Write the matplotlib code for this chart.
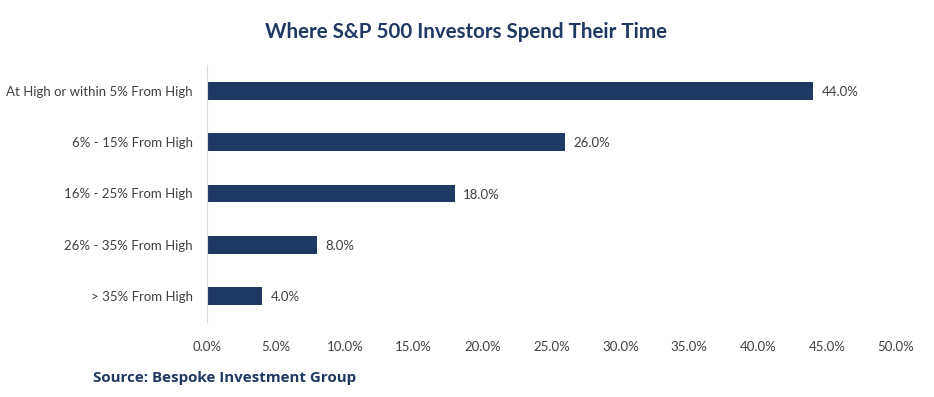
import matplotlib
matplotlib.use("Agg")
import matplotlib.pyplot as plt
from matplotlib.ticker import FuncFormatter

plt.rcParams['font.family'] = ['Lato', 'DejaVu Sans']

categories = ["At High or within 5% From High", "6% - 15% From High", "16% - 25% From High",
              "26% - 35% From High", "> 35% From High"]
values = [44.0, 26.0, 18.0, 8.0, 4.0]
xticks = [0, 5, 10, 15, 20, 25, 30, 35, 40, 45, 50]

NAVY = "#203864"
GREY = "#404040"

fig = plt.figure(figsize=(9.34, 3.97), dpi=100)
ax = fig.add_axes([207 / 934, 75 / 397, 689 / 934, 257 / 397])

ypos = list(range(len(categories)))
ax.barh(ypos, values, height=0.35, color=NAVY)
for y, v in zip(ypos, values):
    ax.text(v + 0.6, y + 0.02, f"{v:.1f}%", va="center", ha="left", fontsize=9.5, color=GREY)

ax.set_xlim(0, 50)
ax.set_ylim(len(categories) - 0.5, -0.5)
ax.set_yticks(ypos)
ax.set_yticklabels(categories, fontsize=9.5, color=GREY)
ax.set_xticks(xticks)
ax.xaxis.set_major_formatter(FuncFormatter(lambda x, _: f"{x:.1f}%"))
ax.tick_params(axis="x", labelsize=9.5, labelcolor=GREY, length=0, pad=14)
ax.tick_params(axis="y", length=0, pad=10)
for s in ["top", "right", "bottom"]:
    ax.spines[s].set_visible(False)
ax.spines["left"].set_color("#D9D9D9")
ax.spines["left"].set_linewidth(0.8)

fig.text(466 / 934, 1 - 32 / 397, "Where S&P 500 Investors Spend Their Time", ha="center", va="center",
         fontsize=14.8, fontweight="bold", color=NAVY)
fig.text(93 / 934, 1 - 378 / 397, "Source: Bespoke Investment Group", ha="left", va="center",
         fontsize=10.9, fontweight="bold", color=NAVY, family=["Open Sans", "DejaVu Sans"])

fig.savefig("out.png", dpi=100)
